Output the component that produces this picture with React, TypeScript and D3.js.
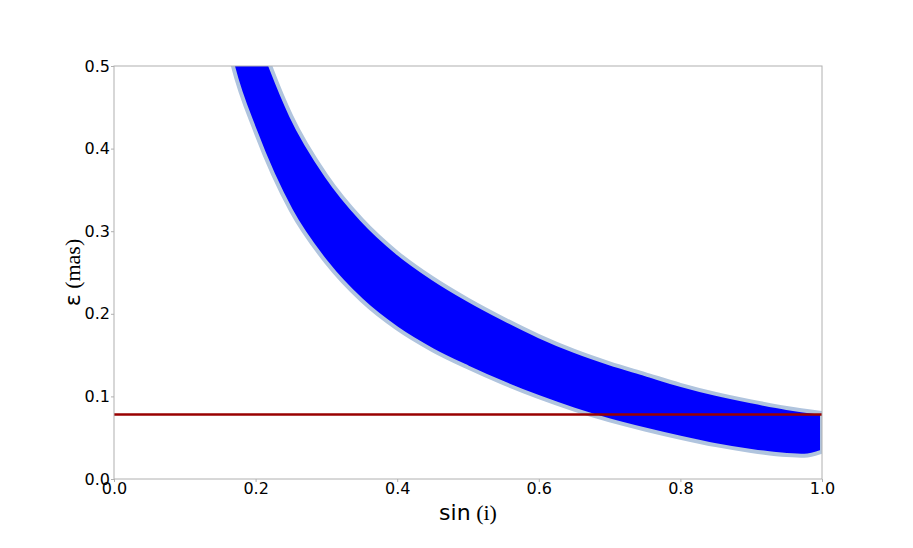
import React, { useEffect, useRef } from 'react';
import * as d3 from 'd3';

// band edges: [sin(i), epsilon in mas]
const upperEdge: [number, number][] = [
  [0.2, 0.55], [0.223, 0.495], [0.25, 0.44], [0.3, 0.367], [0.35, 0.314],
  [0.4, 0.274], [0.45, 0.243], [0.5, 0.217], [0.55, 0.194], [0.6, 0.173],
  [0.65, 0.155], [0.7, 0.14], [0.75, 0.127], [0.8, 0.114], [0.85, 0.103],
  [0.9, 0.094], [0.95, 0.086], [1.0, 0.08],
];
const lowerEdge: [number, number][] = [
  [0.15, 0.57], [0.168, 0.5], [0.2, 0.42], [0.25, 0.325], [0.3, 0.262],
  [0.35, 0.216], [0.4, 0.182], [0.45, 0.156], [0.5, 0.135], [0.55, 0.116],
  [0.6, 0.099], [0.65, 0.084], [0.7, 0.071], [0.75, 0.06], [0.8, 0.05],
  [0.85, 0.041], [0.9, 0.034], [0.95, 0.029], [0.975, 0.028], [1.0, 0.033],
];
const threshold = 0.078;
const xTicks = [0, 0.2, 0.4, 0.6, 0.8, 1.0];
const yTicks = [0, 0.1, 0.2, 0.3, 0.4, 0.5];

const BandChart: React.FC = () => {
  const svgRef = useRef<SVGSVGElement>(null);

  useEffect(() => {
    const width = 913;
    const height = 548;
    const left = 114, right = 822, top = 66, bottom = 479;

    const svg = d3.select(svgRef.current);
    svg.selectAll('*').remove();
    svg.attr('width', width).attr('height', height);

    const x = d3.scaleLinear().domain([0, 1]).range([left, right]);
    const y = d3.scaleLinear().domain([0, 0.5]).range([bottom, top]);

    svg.append('defs').append('clipPath').attr('id', 'plotclip')
      .append('rect')
      .attr('x', left).attr('y', top)
      .attr('width', right - left).attr('height', bottom - top);

    const plot = svg.append('g').attr('clip-path', 'url(#plotclip)');

    const edge = d3.line<[number, number]>()
      .x(d => x(d[0]))
      .y(d => y(d[1]))
      .curve(d3.curveMonotoneX);

    // upper edge left to right, then lower edge back, closed
    const upperPath = edge(upperEdge) || '';
    const lowerPath = edge(lowerEdge.slice().reverse()) || '';
    const bandPath = upperPath + 'L' + lowerPath.slice(1) + 'Z';

    plot.append('path')
      .attr('d', bandPath)
      .attr('fill', '#0000ff')
      .attr('stroke', '#b0c4de')
      .attr('stroke-width', 4)
      .attr('stroke-linejoin', 'round');

    plot.append('line')
      .attr('x1', x(0)).attr('x2', x(1))
      .attr('y1', y(threshold)).attr('y2', y(threshold))
      .attr('stroke', '#990000')
      .attr('stroke-width', 2.5);

    // frame
    svg.append('rect')
      .attr('x', left).attr('y', top)
      .attr('width', right - left).attr('height', bottom - top)
      .attr('fill', 'none')
      .attr('stroke', '#b0b0b0')
      .attr('stroke-width', 1);

    const xAxis = svg.append('g')
      .attr('transform', `translate(0,${bottom})`)
      .call(d3.axisBottom(x).tickValues(xTicks).tickFormat(d3.format('.1f')).tickSize(3).tickPadding(1));
    const yAxis = svg.append('g')
      .attr('transform', `translate(${left},0)`)
      .call(d3.axisLeft(y).tickValues(yTicks).tickFormat(d3.format('.1f')).tickSize(3).tickPadding(1));

    [xAxis, yAxis].forEach(ax => {
      ax.select('.domain').remove();
      ax.selectAll('line').attr('stroke', '#b0b0b0');
      ax.selectAll('text')
        .attr('fill', '#000')
        .style('font-family', '"DejaVu Sans", sans-serif')
        .style('font-size', '16px');
    });

    const xl = svg.append('text')
      .attr('x', (left + right) / 2)
      .attr('y', 520)
      .attr('text-anchor', 'middle')
      .style('font-size', '22px');
    xl.append('tspan').style('font-family', '"DejaVu Sans", sans-serif').text('sin');
    xl.append('tspan').style('font-family', '"Liberation Serif", serif').text(' (i)');

    const yl = svg.append('text')
      .attr('transform', `translate(80,${(top + bottom) / 2}) rotate(-90)`)
      .attr('text-anchor', 'middle')
      .style('font-size', '22px');
    yl.append('tspan').style('font-family', '"DejaVu Sans", sans-serif').text('ε');
    yl.append('tspan').style('font-family', '"Liberation Serif", serif').text(' (mas)');
  }, []);

  return <svg ref={svgRef} style={{ display: 'block', position: 'absolute', left: 0, top: 0 }}></svg>;
};

const App: React.FC = () => {
  return (
    <div>
      <BandChart />
    </div>
  );
};

export default App;
